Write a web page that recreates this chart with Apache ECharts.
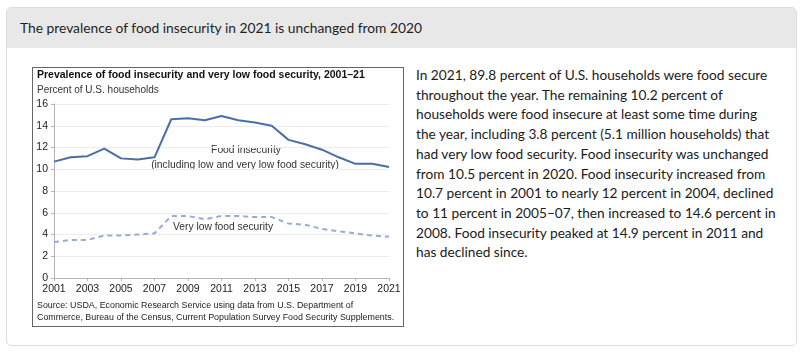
<!DOCTYPE html>
<html>
<head>
<meta charset="utf-8">
<script src="https://cdn.jsdelivr.net/npm/echarts@6/dist/echarts.min.js"></script>
<style>
  html, body { margin: 0; padding: 0; background: #fff; }
  body { width: 806px; height: 353px; position: relative; overflow: hidden; }
  .card { position: absolute; left: 6px; top: 7px; width: 791px; height: 339px;
    border: 1px solid #dcdcdc; border-radius: 5px; box-sizing: border-box; }
  .card-head { position: absolute; left: 0; top: 0; right: 0; height: 40px; background: #e8e8e8;
    border-radius: 4px 4px 0 0; font-family: Lato, sans-serif; font-size: 13.8px; color: #1f1f1f;
    line-height: 40px; padding-left: 13px; }
  .figure { position: absolute; left: 32px; top: 67px; width: 372px; height: 260px;
    border: 1.5px solid #666; box-sizing: border-box; }
  #chart { position: absolute; left: 32px; top: 67px; width: 372px; height: 260px; }
  .text { position: absolute; left: 416px; top: 65px; white-space: nowrap; font-family: Lato, sans-serif;
    font-size: 13.7px; line-height: 19.7px; color: #1b1b1b; }
</style>
</head>
<body>
<div class="card"><div class="card-head">The prevalence of food insecurity in 2021 is unchanged from 2020</div></div>
<div class="figure"></div>
<div id="chart"></div>
<div class="text">In 2021, 89.8 percent of U.S. households were food secure<br>throughout the year. The remaining 10.2 percent of<br>households were food insecure at least some time during<br>the year, including 3.8 percent (5.1 million households) that<br>had very low food security. Food insecurity was unchanged<br>from 10.5 percent in 2020. Food insecurity increased from<br>10.7 percent in 2001 to nearly 12 percent in 2004, declined<br>to 11 percent in 2005–07, then increased to 14.6 percent in<br>2008. Food insecurity peaked at 14.9 percent in 2011 and<br>has declined since.</div>
<script>
// data
const years = ['2001', '2002', '2003', '2004', '2005', '2006', '2007', '2008', '2009', '2010', '2011',
  '2012', '2013', '2014', '2015', '2016', '2017', '2018', '2019', '2020', '2021'];
const foodInsecurity = [10.7, 11.1, 11.2, 11.9, 11.0, 10.9, 11.1, 14.6, 14.7, 14.5, 14.9,
  14.5, 14.3, 14.0, 12.7, 12.3, 11.8, 11.1, 10.5, 10.5, 10.2];
const veryLowSecurity = [3.3, 3.5, 3.5, 3.9, 3.9, 4.0, 4.1, 5.7, 5.7, 5.4, 5.7,
  5.7, 5.6, 5.6, 5.0, 4.9, 4.5, 4.3, 4.1, 3.9, 3.8];
const yTicks = [0, 2, 4, 6, 8, 10, 12, 14, 16];

const font = 'Liberation Sans, Arial, sans-serif';
const chart = echarts.init(document.getElementById('chart'));

const option = {
  animation: false,
  grid: { left: 22, right: 15, top: 37, bottom: 49 },
  xAxis: {
    type: 'category',
    data: years,
    boundaryGap: false,
    axisLine: { lineStyle: { color: '#b5b5b5', width: 1 } },
    axisTick: { interval: 1, length: 3, lineStyle: { color: '#b5b5b5' } },
    axisLabel: { interval: 1, color: '#222', fontFamily: font, fontSize: 10.5, margin: 6 }
  },
  yAxis: {
    type: 'value',
    min: yTicks[0],
    max: yTicks[yTicks.length - 1],
    interval: 2,
    axisLine: { show: true, lineStyle: { color: '#b5b5b5', width: 1 } },
    axisTick: { show: true, length: 3, lineStyle: { color: '#b5b5b5' } },
    axisLabel: { color: '#222', fontFamily: font, fontSize: 10.5, margin: 6 },
    splitLine: { lineStyle: { color: '#ececec', width: 1 } }
  },
  series: [
    {
      name: 'Food insecurity',
      type: 'line',
      data: foodInsecurity,
      symbol: 'none',
      lineStyle: { color: '#4a6ea6', width: 2 }
    },
    {
      name: 'Very low food security',
      type: 'line',
      data: veryLowSecurity,
      symbol: 'none',
      lineStyle: { color: '#96acd6', width: 2, type: [5, 4] }
    }
  ],
  graphic: [
    {
      type: 'text', left: 5, top: 3,
      style: { text: 'Prevalence of food insecurity and very low food security, 2001–21',
        font: 'bold 10.5px ' + font, fill: '#111' }
    },
    {
      type: 'text', left: 5, top: 18,
      style: { text: 'Percent of U.S. households', font: '10px ' + font, fill: '#333' }
    },
    {
      type: 'text', x: 214, y: 83,
      style: { text: 'Food insecurity', font: '10.3px ' + font, fill: '#333',
        align: 'center', verticalAlign: 'middle' }
    },
    {
      type: 'text', x: 213, y: 98,
      style: { text: '(including low and very low food security)', font: '10.3px ' + font, fill: '#333',
        align: 'center', verticalAlign: 'middle' }
    },
    {
      type: 'text', x: 191, y: 160,
      style: { text: 'Very low food security', font: '10.3px ' + font, fill: '#333',
        align: 'center', verticalAlign: 'middle' }
    },
    {
      type: 'text', left: 5, top: 233,
      style: { text: 'Source: USDA, Economic Research Service using data from U.S. Department of\nCommerce, Bureau of the Census, Current Population Survey Food Security Supplements.',
        font: '8.9px ' + font, fill: '#222', lineHeight: 12 }
    }
  ]
};

chart.setOption(option);
</script>
</body>
</html>
